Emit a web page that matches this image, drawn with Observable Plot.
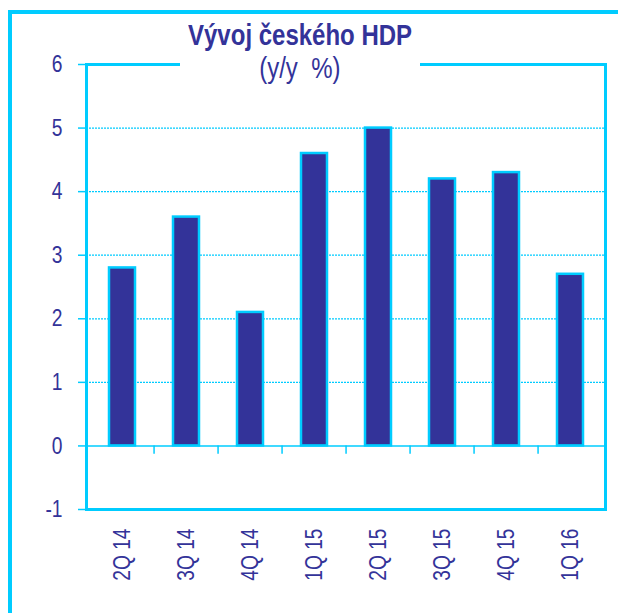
<!DOCTYPE html>
<html>
<head>
<meta charset="utf-8">
<script src="https://cdn.jsdelivr.net/npm/d3@7"></script>
<script src="https://cdn.jsdelivr.net/npm/@observablehq/plot@0.6"></script>
<style>
  body { margin: 0; background: #fff; }
  #wrap { position: relative; width: 618px; height: 613px; overflow: hidden; }
  #frame { position: absolute; left: 8px; top: 10px; width: 700px; height: 700px;
           border-left: 4px solid #00ccff; border-top: 4px solid #00ccff; box-sizing: border-box; }
  #chart { position: absolute; left: 0; top: 0; }
  .t { position: absolute; text-align: center; color: #333399;
       font-family: "Liberation Sans", Arial, sans-serif; line-height: 1; white-space: nowrap; }
  .t span { display: inline-block; transform: scaleX(0.8); transform-origin: center; }
  #t1 { top: 20px; left: 100px; width: 400px; font-size: 30px; font-weight: bold; }
  #t2 { top: 53px; left: 180px; width: 240px; font-size: 30px; background: #fff; }
</style>
</head>
<body>
<div id="wrap">
  <div id="frame"></div>
  <div id="chart"></div>
  <div class="t" id="t1"><span>Vývoj českého HDP</span></div>
  <div class="t" id="t2"><span>(y/y&nbsp;&nbsp;%)</span></div>
</div>
<script>
const categories = ["2Q 14", "3Q 14", "4Q 14", "1Q 15", "2Q 15", "3Q 15", "4Q 15", "1Q 16"];
const values = [2.8, 3.6, 2.1, 4.6, 5.0, 4.2, 4.3, 2.7];
const yTicks = [-1, 0, 1, 2, 3, 4, 5, 6];
const gridValues = [1, 2, 3, 4, 5];

const data = categories.map((c, i) => ({q: c, v: values[i]}));

const W = 618, H = 613;
const mLeft = 86, mRight = 13, mTop = 64, mBottom = 104;
const band = (W - mLeft - mRight) / categories.length;
const cyan = "#00ccff", navy = "#333399";
const font = "'Liberation Sans', Arial, sans-serif";

const chart = Plot.plot({
  width: W, height: H,
  marginLeft: mLeft, marginRight: mRight, marginTop: mTop, marginBottom: mBottom,
  style: {fontFamily: font, background: "transparent", color: navy},
  x: {domain: categories, paddingInner: 0.6, paddingOuter: 0.3, label: null},
  y: {domain: [-1, 6], label: null},
  marks: [
    Plot.ruleY(gridValues, {stroke: cyan, strokeWidth: 1.2, strokeDasharray: "2,1"}),
    Plot.ruleY([0], {stroke: cyan, strokeWidth: 1.5}),
    Plot.ruleX(categories.slice(1), {x: d => d, dx: -band / 2, y1: 0, y2: -0.13, stroke: cyan, strokeWidth: 1.5}),
    Plot.barY(data, {x: "q", y: "v", fill: navy, stroke: cyan, strokeWidth: 2.5}),
    Plot.axisY(yTicks, {tickSize: 8, tickPadding: 16, stroke: cyan, strokeWidth: 1.5, fill: navy, fontSize: 24, label: null, tickFormat: d => String(d)}),
    Plot.axisX({tickSize: 0, tickPadding: 19, tickRotate: -90, fill: navy, fontSize: 24, label: null}),
    Plot.frame({stroke: cyan, strokeWidth: 3})
  ]
});
document.getElementById("chart").appendChild(chart);
// condense tick labels to mimic a narrow typeface
chart.querySelectorAll("text").forEach(t => {
  const L = t.getComputedTextLength();
  if (L > 0) {
    t.setAttribute("textLength", (L * 0.8).toFixed(1));
    t.setAttribute("lengthAdjust", "spacingAndGlyphs");
  }
});
</script>
</body>
</html>
